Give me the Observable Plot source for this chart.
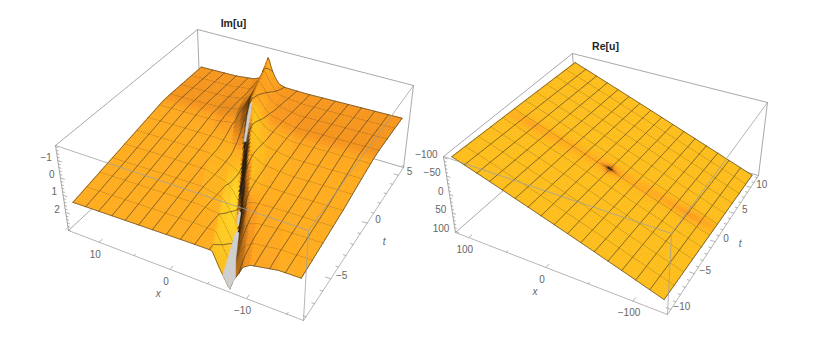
<!DOCTYPE html>
<html>
<head>
<meta charset="utf-8">
<style>html,body{margin:0;padding:0;background:#fff}svg{display:block}</style>
<script src="https://cdn.jsdelivr.net/npm/d3@7"></script>
<script src="https://cdn.jsdelivr.net/npm/@observablehq/plot@0.6"></script>
</head>
<body>
<div id="chart"></div>
<script>
// ---- Im[u] readings ----
const imXRange = [13.8, -16.2];
const imTRange = [-8, 5.6];
const imZBox = [-1.87, 3.04];           // z at box top, box bottom
const imXTicks = [10, 0, -10];
const imTTicks = [5, 0, -5];
const imZTicks = [-1, 0, 1, 2];
// background sheet height along t, at the two x ends of the surface
const imBaseT = [-8, 0.2, 1.1, 1.9, 5.6];
const imBaseHigh = [1.47, 0.42, 0.31, 0.29, 0.29];  // at largest x
const imBaseLow = [1.22, 0.19, 0.08, 0.04, 0.04];   // at smallest x
// background tint along t
const imTintT = [-8, -1, 0.8, 1.6, 5.6];
const imTint = [0.07, 0.07, 0.04, -0.07, -0.06];
// how much flanks catch the light, and fall into shadow, along t
const imGlowT = [-8, -5, -3, -1, 1, 3, 5.6];
const imGlow = [0.2, 0.45, 0.6, 0.5, 0.3, 0.12, 0.1];
const imShadowT = [-8, -5, -3, 0, 2, 3.5, 5.6];
const imShadow = [0.6, 0.7, 0.9, 0.95, 0.9, 0.4, 0.25];
// ridge centre line
const ridgeT = [-8, -1.2, 1.5, 5.6];
const ridgeX = [-7.5, -1.5, 0.9, 3.2];
// ridge height above sheet: rows by t, columns by distance from the ridge centre
const ridgeRowT = [-8, -6.4, -4.6, -2.8, -1.2, 0.4, 2.2, 4, 5.6];
const ridgeColS = [10, 5, 2.2, 1.3, 0.5, 0, -0.5, -1.1, -1.7, -2.6, -6];
const ridgeRow0 = [0, 0, 0.02, 0.85, 1.45, 1.85, 1.25, 0.85, 0.35, 0.1, -0.15];
const ridgeRow1 = [0, 0, 0.08, 0.85, 1.45, 1.8, 1.15, 0.6, 0.25, 0.05, -0.1];
const ridgeRow2 = [0, 0.02, 0.3, 0.85, 1.5, 1.8, 0.9, 0.25, 0.1, 0, -0.05];
const ridgeRow3 = [0, 0.05, 0.4, 0.75, 1.3, 0.6, -0.15, -0.35, -0.2, -0.08, 0];
const ridgeRow4 = [0, 0.05, 0.3, 0.4, 0.5, -0.3, -0.85, -0.7, -0.5, -0.28, -0.03];
const ridgeRow5 = [0, -0.02, -0.2, -0.5, -0.95, -1.4, -1.3, -0.9, -0.6, -0.35, -0.03];
const ridgeRow6 = [0, -0.03, -0.2, -0.5, -1.05, -1.5, -1.3, -1, -0.65, -0.35, -0.03];
const ridgeRow7 = [0, 0, -0.12, -0.3, -0.9, -1.5, -1.2, -0.85, -0.5, -0.25, -0.02];
const ridgeRow8 = [0, 0, -0.1, -0.25, -0.95, -1.7, -1, -0.5, -0.17, -0.05, 0];
// gaps in the surface: [distance from ridge, t]
const imGapA = [[0.2, -0.7], [0.55, -0.5], [0.3, 0.3], [0.1, 1.0], [-0.15, 1.1], [-0.15, 0.3], [0, -0.4]];
const imGapB = [[0.3, -4.3], [0.05, -4.3], [-0.1, -3.9], [0.2, -3.7]];
const imGapC = [[0.85, -8], [0.3, -8], [0, -8], [-0.35, -8], [-0.75, -8], [-0.35, -6.6], [-0.15, -4.8], [0.3, -4.7], [0.55, -6.2]];

// ---- Re[u] readings ----
const reXRange = [112, -130];
const reTRange = [-10.2, 12];
const reZBox = [-103, 103];
const reXTicks = [100, 0, -100];
const reTTicks = [10, 5, 0, -5, -10];
const reZTicks = [-100, -50, 0, 50, 100];
const reCornerZ = [-100, 80, 100, -85]; // largest x & lowest t, then around
const creaseX = [112, 88, 64, 39, 15, -2, -9, -16, -33, -57, -82, -106, -130];
const creaseT = [-0.95, -0.73, -0.52, -0.28, -0.09, 0.01, 0.05, 0.12, 0.29, 0.48, 0.67, 0.86, 1.07];
const creaseDepth = [0.1, 0.22, 0.17, 0.17, 0.14, 0.18, 0.22, 0.18, 0.14, 0.17, 0.2, 0.27, 0.15];
const creaseOffset = [-1.8, -0.9, -0.45, 0, 0.45, 0.9, 1.8];
const creaseWeight = [0, 0.25, 0.7, 1, 0.7, 0.25, 0];
const spotX = [-23, -14, -9, -4, 5];
const spotXWeight = [0, 0.25, 1, 0.25, 0];
const spotT = [-1, -0.25, 0.05, 0.35, 1.1];
const spotTWeight = [0, 0.3, 1, 0.3, 0];
const spotDepth = 1.25;

// camera: where the box corners fall
const imCamera = {
  top: [[55, 145], [308, 230], [413, 85], [197, 29]],
  bottom: [[68, 230], [303, 320], [403, 167], [200, 107]]
};
const reCamera = {
  top: [[443, 156], [671, 233], [767, 102], [572, 53]],
  bottom: [[455, 232], [667, 314], [758, 175], [577, 125]]
};

const ridgeRows = [ridgeRow0, ridgeRow1, ridgeRow2, ridgeRow3, ridgeRow4, ridgeRow5, ridgeRow6, ridgeRow7, ridgeRow8];

// ---- helpers ----
function lookup(xs, ys, v) {
  const asc = xs[0] < xs[xs.length - 1];
  const f = d3.scaleLinear().domain(asc ? xs : xs.slice().reverse()).range(asc ? ys : ys.slice().reverse()).clamp(true);
  return f(v);
}
function quad(c) {
  const [[x0, y0], [x1, y1], [x2, y2], [x3, y3]] = c;
  const sx = x0 - x1 + x2 - x3, sy = y0 - y1 + y2 - y3;
  const dx1 = x1 - x2, dx2 = x3 - x2, dy1 = y1 - y2, dy2 = y3 - y2;
  const den = dx1 * dy2 - dx2 * dy1;
  const g = (sx * dy2 - dx2 * sy) / den, h = (dx1 * sy - sx * dy1) / den;
  const a = x1 - x0 + g * x1, b = x3 - x0 + h * x3, d = y1 - y0 + g * y1, e = y3 - y0 + h * y3;
  return (u, v) => {
    const q = g * u + h * v + 1;
    return [(a * u + b * v + x0) / q, (d * u + e * v + y0) / q];
  };
}
function makeProjector(cam, xr, tr, zr) {
  const top = quad(cam.top), bot = quad(cam.bottom);
  const pad = 0.025, padV = 0.02;
  const U = x => pad + (1 - 2 * pad) * (x - xr[0]) / (xr[1] - xr[0]);
  const V = t => padV + (1 - 2 * padV) * (t - tr[0]) / (tr[1] - tr[0]);
  const W = z => (zr[1] - z) / (zr[1] - zr[0]);
  const uvw = (u, v, w) => {
    const a = bot(u, v), b = top(u, v);
    return [a[0] + (b[0] - a[0]) * w, a[1] + (b[1] - a[1]) * w];
  };
  return {U, V, W, uvw, at: (x, t, z) => uvw(U(x), V(t), W(z))};
}

const ridgeCentre = t => lookup(ridgeT, ridgeX, t);
function imHeight(x, t) {
  const f = (x - imXRange[1]) / (imXRange[0] - imXRange[1]);
  const base = lookup(imBaseT, imBaseLow, t) * (1 - f) + lookup(imBaseT, imBaseHigh, t) * f;
  const s = x - ridgeCentre(t);
  const col = ridgeRows.map(r => lookup(ridgeColS, r, s));
  return base + lookup(ridgeRowT, col, t);
}
function imShade(x, t) {
  const e = 0.1;
  const dx = (imHeight(x + e, t) - imHeight(x - e, t)) / (2 * e);
  const lean = dx > 0 ? -lookup(imShadowT, imShadow, t) * dx : -lookup(imGlowT, imGlow, t) * dx;
  return lookup(imTintT, imTint, t) + lean;
}
function reHeight(x, t) {
  const f = (x - reXRange[0]) / (reXRange[1] - reXRange[0]);
  const g = (t - reTRange[0]) / (reTRange[1] - reTRange[0]);
  return (reCornerZ[0] * (1 - f) + reCornerZ[1] * f) * (1 - g) + (reCornerZ[3] * (1 - f) + reCornerZ[2] * f) * g;
}
function reShade(x, t) {
  const off = t - lookup(creaseX, creaseT, x);
  const spot = lookup(spotX, spotXWeight, x) * lookup(spotT, spotTWeight, t);
  return 0.22 - lookup(creaseX, creaseDepth, x) * lookup(creaseOffset, creaseWeight, off) - spotDepth * spot;
}

function surfaceMarks(P, xr, tr, height, shade, nu, nv, sub) {
  const marks = [];
  const xAt = i => xr[0] + (xr[1] - xr[0]) * i / nu;
  const tAt = j => tr[0] + (tr[1] - tr[0]) * j / nv;
  const pts = d3.range(nv + 1).map(j => d3.range(nu + 1).map(i => {
    const x = xAt(i), t = tAt(j);
    return P.at(x, t, height(x, t));
  }));
  for (let j = nv - 1; j >= 0; j--) {
    const cells = [], mesh = [];
    for (let i = 0; i < nu; i++) {
      const s = shade(xAt(i + 0.5), tAt(j + 0.5));
      for (const p of [pts[j][i], pts[j][i + 1], pts[j + 1][i + 1], pts[j + 1][i]]) {
        cells.push({id: i, px: p[0], py: p[1], s});
      }
    }
    if (j + 1 === nv) {
      for (let i = 0; i <= nu; i++) mesh.push({id: "far", px: pts[j + 1][i][0], py: pts[j + 1][i][1]});
    }
    if (j % sub.v === 0) {
      for (let i = 0; i <= nu; i++) mesh.push({id: "near", px: pts[j][i][0], py: pts[j][i][1]});
    }
    for (let i = 0; i <= nu; i += sub.u) {
      mesh.push({id: "c" + i, px: pts[j][i][0], py: pts[j][i][1]});
      mesh.push({id: "c" + i, px: pts[j + 1][i][0], py: pts[j + 1][i][1]});
    }
    marks.push(Plot.line(cells, {x: "px", y: "py", z: "id", fill: "s", stroke: "s", strokeWidth: 0.5, curve: "linear-closed"}));
    marks.push(Plot.line(mesh, {x: "px", y: "py", z: "id", stroke: "#54452a", strokeOpacity: 0.85, strokeWidth: 0.85}));
  }
  return marks;
}

function boxEdge(P, list, opacity) {
  const rows = [];
  list.forEach((e, k) => e.forEach(c => {
    const p = P.uvw(c[0], c[1], c[2]);
    rows.push({id: k, px: p[0], py: p[1]});
  }));
  return Plot.line(rows, {x: "px", y: "py", z: "id", stroke: "#9f9f9f", strokeOpacity: opacity, strokeWidth: 0.9});
}

function axisMarks(P, cfg) {
  const tickRows = [];
  const add = (a, b, k) => {tickRows.push({id: k, px: a[0], py: a[1]}, {id: k, px: b[0], py: b[1]});};
  let k = 0;
  const step = (r, st) => d3.range(Math.ceil(Math.min(...r) / st), Math.floor(Math.max(...r) / st) + 1).map(n => n * st);
  for (const x of step(cfg.xBox, cfg.xMinor)) {
    const big = cfg.xTicks.includes(x), u = P.U(x);
    add(P.uvw(u, 0, 0), P.uvw(u, big ? 0.02 : 0.01, 0), k++);
  }
  for (const t of step(cfg.tBox, cfg.tMinor)) {
    const big = cfg.tTicks.includes(t), v = P.V(t);
    add(P.uvw(1, v, 0), P.uvw(big ? 0.98 : 0.99, v, 0), k++);
  }
  for (const z of step(cfg.zBox, cfg.zMinor)) {
    const big = cfg.zTicks.some(q => Math.abs(q - z) < 1e-6), w = P.W(z);
    add(P.uvw(0, 0, w), P.uvw(big ? 0.018 : 0.009, 0, w), k++);
  }
  const minus = v => String(v).replace("-", "\u2212");
  const lab = {fontFamily: "Liberation Sans", fontSize: 10, fill: "#666"};
  const xRows = cfg.xTicks.map(x => ({p: P.uvw(P.U(x), 0, 0), s: minus(x)}));
  const tRows = cfg.tTicks.map(t => ({p: P.uvw(1, P.V(t), 0), s: minus(t)}));
  const zRows = cfg.zTicks.map(z => ({p: P.uvw(0, 0, P.W(z)), s: minus(z)}));
  const txt = (rows, o) => Plot.text(rows, {x: d => d.p[0], y: d => d.p[1], text: "s", ...lab, ...o});
  return [
    Plot.line(tickRows, {x: "px", y: "py", z: "id", stroke: "#9f9f9f", strokeWidth: 0.8}),
    txt(xRows, {dx: -4, dy: 12}),
    txt(tRows, {dx: 11, dy: -3}),
    txt(zRows, {dx: -6, dy: -3, textAnchor: "end"}),
    Plot.text([{p: P.uvw(P.U(0), 0, 0), s: "x"}], {x: d => d.p[0], y: d => d.p[1], text: "s", ...lab, fontStyle: "italic", dx: cfg.xName[0], dy: cfg.xName[1]}),
    Plot.text([{p: P.uvw(1, P.V(0), 0), s: "t"}], {x: d => d.p[0], y: d => d.p[1], text: "s", ...lab, fontStyle: "italic", dx: cfg.tName[0], dy: cfg.tName[1]})
  ];
}

function panel(cfg) {
  const P = makeProjector(cfg.cam, cfg.xRange, cfg.tRange, cfg.zRange);
  const backEdges = [
    [[0, 1, 1], [1, 1, 1]], [[0, 0, 1], [0, 1, 1]],
    [[0, 1, 0], [1, 1, 0]], [[0, 1, 0], [0, 0, 0]], [[0, 1, 0], [0, 1, 1]],
    [[0, 0, 0], [0, 0, 1]], [[1, 1, 0], [1, 1, 1]]
  ];
  const frontEdges = [
    [[0, 0, 1], [1, 0, 1]], [[1, 0, 1], [1, 1, 1]], [[1, 0, 1], [1, 0, 0]],
    [[0, 0, 0], [1, 0, 0]], [[1, 0, 0], [1, 1, 0]]
  ];
  return [
    boxEdge(P, backEdges, 1),
    ...surfaceMarks(P, cfg.xRange, cfg.tRange, cfg.height, cfg.shade, cfg.nu, cfg.nv, cfg.sub),
    ...(cfg.gaps || []).map(g => Plot.line(g.map(([s, t]) => {
      const x = ridgeCentre(t) + s;
      const p = P.at(x, t, cfg.height(x, t));
      return {px: p[0], py: p[1]};
    }), {x: "px", y: "py", fill: "#cfcfcf", stroke: "#cfcfcf", strokeWidth: 0.5, curve: "linear-closed"})),
    boxEdge(P, frontEdges, 0.85),
    ...axisMarks(P, cfg),
    Plot.text([cfg.title], {x: d => d.x, y: d => d.y, text: d => d.s, fontFamily: "Liberation Sans", fontSize: 10.5, fontWeight: "bold", fill: "#222"})
  ];
}

const chart = Plot.plot({
  width: 830, height: 342, margin: 0,
  style: {background: "#fff"},
  x: {domain: [0, 830], range: [0, 830], axis: null},
  y: {domain: [0, 342], range: [0, 342], axis: null},
  color: {
    type: "linear",
    domain: [-1, -0.45, -0.05, 0.05, 0.22, 0.55, 1],
    range: ["#2e1c08", "#a8600f", "#f9961a", "#ffa81a", "#fdbc18", "#ffdc28", "#fff060"],
    clamp: true
  },
  marks: [
    ...panel({
      cam: imCamera, xRange: imXRange, tRange: imTRange, zRange: imZBox,
      height: imHeight, shade: imShade, nu: 128, nv: 66, sub: {u: 8, v: 6},
      gaps: [imGapA, imGapB, imGapC],
      xBox: [16, -17], tBox: [-8, 6], zBox: [-1.8, 3], xMinor: 5, tMinor: 1, zMinor: 0.2,
      xTicks: imXTicks, tTicks: imTTicks, zTicks: imZTicks,
      xName: [-12, 24], tName: [17, 19],
      title: {x: 233, y: 23, s: "Im[u]"}
    }),
    ...panel({
      cam: reCamera, xRange: reXRange, tRange: reTRange, zRange: reZBox,
      height: reHeight, shade: reShade, nu: 80, nv: 66, sub: {u: 5, v: 6},
      xBox: [118, -135], tBox: [-10, 12], zBox: [-100, 100], xMinor: 50, tMinor: 1, zMinor: 10,
      xTicks: reXTicks, tTicks: reTTicks, zTicks: reZTicks,
      xName: [-11, 24], tName: [25, 2],
      title: {x: 605, y: 46, s: "Re[u]"}
    })
  ]
});
document.getElementById("chart").appendChild(chart);
</script>
</body>
</html>
